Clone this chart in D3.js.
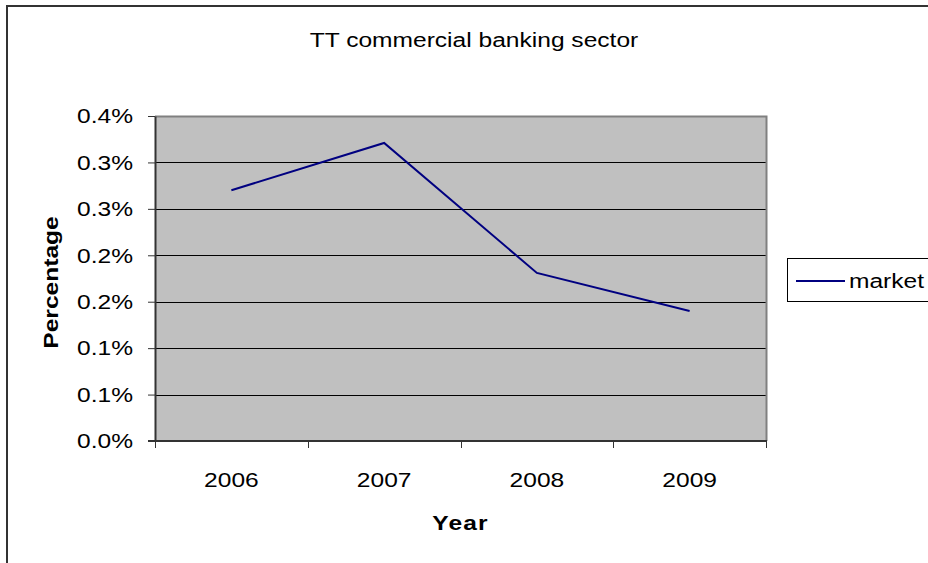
<!DOCTYPE html>
<html>
<head>
<meta charset="utf-8">
<script src="https://cdn.jsdelivr.net/npm/d3@7"></script>
<style>
  body { margin: 0; background: #fff; }
  text { font-family: "Liberation Sans", Arial, sans-serif; fill: #000; }
</style>
</head>
<body>
<div id="visualization"></div>
<script>
const years = ['2006', '2007', '2008', '2009'];
const marketValues = [0.270, 0.321, 0.181, 0.140];
const yTicks = [0, 0.05, 0.10, 0.15, 0.20, 0.25, 0.30, 0.35];
const yTickLabels = ['0.0%', '0.1%', '0.1%', '0.2%', '0.2%', '0.3%', '0.3%', '0.4%'];
const seriesName = 'market';

class LineChart {
  width = 928;

  height = 563;

  plot = { left: 155, top: 116, right: 766, bottom: 441 };

  lineColor = '#000080';

  fontSize = 21;

  // the source font renders wider than Liberation Sans
  stretch = 1.17;

  createSvg() {
    this.svg = d3.select('#visualization')
      .append('svg')
      .attr('width', this.width)
      .attr('height', this.height);

    // outer chart border, runs off the right and bottom edges
    this.svg.append('rect')
      .attr('x', 7)
      .attr('y', 6)
      .attr('width', 1000)
      .attr('height', 700)
      .attr('fill', 'none')
      .attr('stroke', '#333')
      .attr('stroke-width', 2);
  }

  addText(x, y, str, anchor = 'middle', rotate = 0) {
    return this.svg.append('text')
      .attr('transform', `translate(${x},${y}) rotate(${rotate}) scale(${this.stretch},1)`)
      .attr('text-anchor', anchor)
      .attr('font-size', this.fontSize)
      .text(str);
  }

  getScales() {
    this.xScale = d3.scaleBand()
      .domain(years)
      .range([this.plot.left, this.plot.right]);

    this.yScale = d3.scaleLinear()
      .domain([0, 0.35])
      .range([this.plot.bottom, this.plot.top]);
  }

  drawPlotArea() {
    const p = this.plot;
    this.svg.append('rect')
      .attr('x', p.left)
      .attr('y', p.top)
      .attr('width', p.right - p.left)
      .attr('height', p.bottom - p.top)
      .attr('fill', '#c0c0c0');

    this.svg.append('g')
      .selectAll('line')
      .data(yTicks.slice(1, -1))
      .enter()
      .append('line')
      .attr('x1', p.left)
      .attr('x2', p.right)
      .attr('y1', (d) => Math.round(this.yScale(d)) + 0.5)
      .attr('y2', (d) => Math.round(this.yScale(d)) + 0.5)
      .attr('stroke', '#000');

    // grey plot border on top and right
    this.svg.append('path')
      .attr('d', `M${p.left},${p.top + 0.5}H${p.right + 0.5}V${p.bottom}`)
      .attr('fill', 'none')
      .attr('stroke', '#808080')
      .attr('stroke-width', 2);
  }

  drawAxis() {
    const p = this.plot;
    const yAxis = d3.axisLeft(this.yScale)
      .tickValues(yTicks)
      .tickFormat((d, i) => yTickLabels[i])
      .tickSize(7)
      .tickPadding(15)
      .tickSizeOuter(0);

    const gy = this.svg.append('g')
      .attr('transform', `translate(${p.left},0)`)
      .call(yAxis);
    gy.selectAll('text')
      .attr('font-size', this.fontSize)
      .attr('font-family', null)
      .attr('x', -22 / this.stretch)
      .attr('transform', `scale(${this.stretch},1)`);
    gy.selectAll('line, path').attr('stroke', '#333');
    gy.select('.domain').attr('stroke-width', 2);

    const bounds = years.map((d) => this.xScale(d)).concat([p.right]);
    const gx = this.svg.append('g');
    gx.append('line')
      .attr('x1', p.left - 7)
      .attr('x2', p.right + 1)
      .attr('y1', p.bottom)
      .attr('y2', p.bottom)
      .attr('stroke', '#333')
      .attr('stroke-width', 2);
    gx.selectAll('.tick')
      .data(bounds)
      .enter()
      .append('line')
      .attr('x1', (d) => Math.round(d) + 0.5)
      .attr('x2', (d) => Math.round(d) + 0.5)
      .attr('y1', p.bottom)
      .attr('y2', p.bottom + 7)
      .attr('stroke', '#333');
    years.forEach((d) => {
      this.addText(this.xScale(d) + this.xScale.bandwidth() / 2, 487, d);
    });

    this.addText((p.left + p.right) / 2, 530, 'Year')
      .attr('font-weight', 'bold')
      .attr('letter-spacing', 1);

    this.addText(58, (p.top + p.bottom) / 2 + 4, 'Percentage', 'middle', -90)
      .attr('font-weight', 'bold');

    this.addText(474, 47, 'TT commercial banking sector');
  }

  drawLine() {
    const line = d3.line()
      .x((d, i) => this.xScale(years[i]) + this.xScale.bandwidth() / 2)
      .y((d) => this.yScale(d));

    this.svg.append('path')
      .datum(marketValues)
      .attr('d', line)
      .attr('fill', 'none')
      .attr('stroke', this.lineColor)
      .attr('stroke-width', 2);
  }

  drawLegend() {
    const g = this.svg.append('g');
    g.append('rect')
      .attr('x', 787.5)
      .attr('y', 258.5)
      .attr('width', 200)
      .attr('height', 43)
      .attr('fill', '#fff')
      .attr('stroke', '#000');
    g.append('line')
      .attr('x1', 796)
      .attr('x2', 845)
      .attr('y1', 281)
      .attr('y2', 281)
      .attr('stroke', this.lineColor)
      .attr('stroke-width', 2);
    this.addText(849, 288, seriesName, 'start');
  }

  draw() {
    d3.select('#visualization').html('');
    this.createSvg();
    this.getScales();
    this.drawPlotArea();
    this.drawAxis();
    this.drawLine();
    this.drawLegend();
  }
}

new LineChart().draw();
</script>
</body>
</html>
